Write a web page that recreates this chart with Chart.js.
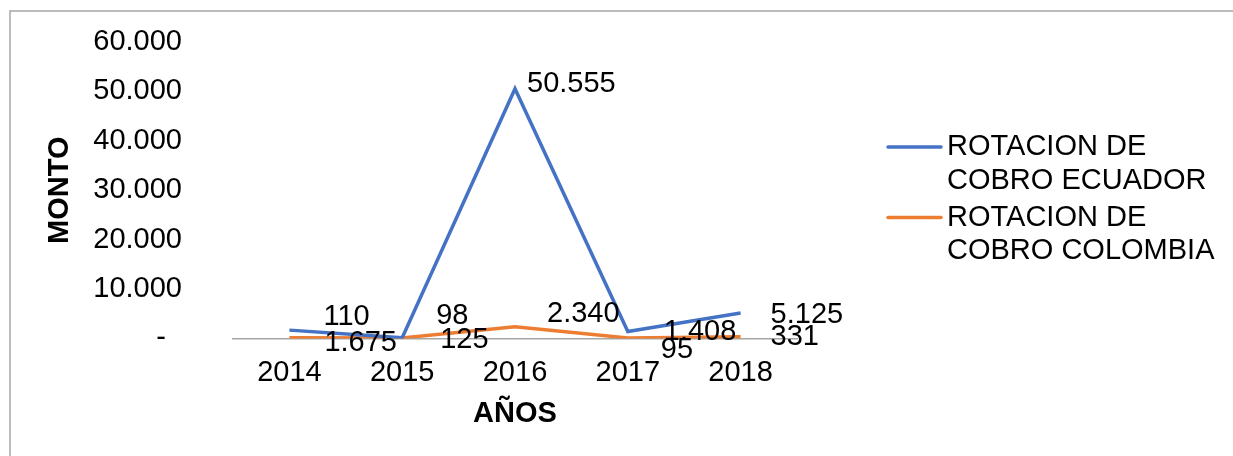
<!DOCTYPE html>
<html>
<head>
<meta charset="utf-8">
<script src="https://cdn.jsdelivr.net/npm/chart.js@4.4.1/dist/chart.umd.min.js"></script>
<style>
  html, body { margin: 0; padding: 0; background: #fff; }
  canvas { display: block; }
</style>
</head>
<body>
<canvas id="chart" width="1233" height="456"></canvas>
<script>
// values
const years = ['2014', '2015', '2016', '2017', '2018'];
const ecuador = [1675, 125, 50555, 1408, 5125];
const colombia = [110, 98, 2340, 95, 331];
const yTicks = [0, 10000, 20000, 30000, 40000, 50000, 60000];

// where each value label sits next to its point (dx to text start, dy to text middle)
const ecuadorLabelShift = [[35, 13], [38, 2], [12, -5], [36, 1], [30, 2]];
const colombiaLabelShift = [[34, -21], [34, -22], [32, -13], [33, 12], [30, 0]];

const FONT = "'Liberation Sans', Arial, sans-serif";
const FS = 29;
Chart.defaults.font.family = FONT;
Chart.defaults.font.size = FS;
Chart.defaults.color = '#000';

function miles(v) {
  return String(Math.round(v)).replace(/\B(?=(\d{3})+(?!\d))/g, '.');
}

const frame = {
  id: 'frame',
  beforeDraw(chart) {
    const c = chart.ctx;
    c.save();
    c.fillStyle = '#fff';
    c.fillRect(0, 0, chart.width, chart.height);
    c.strokeStyle = '#a6a6a6';
    c.lineWidth = 1.5;
    c.strokeRect(10, 11, chart.width + 20, chart.height + 20);
    c.restore();
  }
};

const valueLabels = {
  id: 'valueLabels',
  afterDatasetsDraw(chart) {
    const c = chart.ctx;
    const shifts = [ecuadorLabelShift, colombiaLabelShift];
    c.save();
    c.font = FS + 'px ' + FONT;
    c.fillStyle = '#000';
    c.textAlign = 'left';
    c.textBaseline = 'middle';
    chart.data.datasets.forEach((ds, di) => {
      chart.getDatasetMeta(di).data.forEach((pt, i) => {
        const [dx, dy] = shifts[di][i];
        c.fillText(miles(ds.data[i]), pt.x + dx, pt.y + dy);
      });
    });
    c.restore();
  }
};

const sideLegend = {
  id: 'sideLegend',
  afterDraw(chart) {
    const c = chart.ctx;
    const x0 = chart.chartArea.right + 91;
    let y = 147;
    c.save();
    c.font = FS + 'px ' + FONT;
    c.fillStyle = '#000';
    c.textAlign = 'left';
    c.textBaseline = 'middle';
    chart.data.datasets.forEach(ds => {
      c.strokeStyle = ds.borderColor;
      c.lineWidth = 3.5;
      c.lineCap = 'round';
      c.beginPath();
      c.moveTo(x0, y);
      c.lineTo(x0 + 53, y);
      c.stroke();
      ds.label.split('\n').forEach((line, k) => {
        c.fillText(line, x0 + 59, y + k * 33.5);
      });
      y += 70.5;
    });
    c.restore();
  }
};

new Chart(document.getElementById('chart'), {
  type: 'line',
  data: {
    labels: years,
    datasets: [
      {
        label: 'ROTACION DE\nCOBRO ECUADOR',
        data: ecuador,
        borderColor: '#4472C4',
        backgroundColor: '#4472C4',
        borderWidth: 3.5,
        pointRadius: 0,
        tension: 0
      },
      {
        label: 'ROTACION DE\nCOBRO COLOMBIA',
        data: colombia,
        borderColor: '#ED7D31',
        backgroundColor: '#ED7D31',
        borderWidth: 3.5,
        pointRadius: 0,
        tension: 0
      }
    ]
  },
  options: {
    responsive: false,
    animation: false,
    layout: { padding: { left: 0, top: 42, right: 436, bottom: 24.6 } },
    plugins: {
      legend: { display: false },
      tooltip: { enabled: false }
    },
    scales: {
      x: {
        offset: true,
        grid: { display: false, drawTicks: false },
        border: { display: true, color: '#a6a6a6', width: 1.5 },
        ticks: { padding: 17.6, maxRotation: 0 },
        title: {
          display: true,
          text: 'AÑOS',
          font: { size: FS, weight: 'bold' },
          padding: { top: 0, bottom: 0 }
        },
        afterFit: s => { s.height = 93; }
      },
      y: {
        min: 0,
        max: 60000,
        afterBuildTicks: s => { s.ticks = yTicks.map(v => ({ value: v })); },
        grid: { display: false, drawTicks: false },
        border: { display: false },
        ticks: {
          padding: 51,
          callback: v => (v === 0 ? '-  ' : miles(v))
        },
        title: {
          display: true,
          text: 'MONTO',
          font: { size: FS, weight: 'bold' },
          padding: { top: 42.6, bottom: 0 }
        },
        afterFit: s => {
          s.width = 233;
          s.paddingTop = 0;
          s.paddingBottom = 0;
        }
      }
    }
  },
  plugins: [frame, valueLabels, sideLegend]
});
</script>
</body>
</html>
